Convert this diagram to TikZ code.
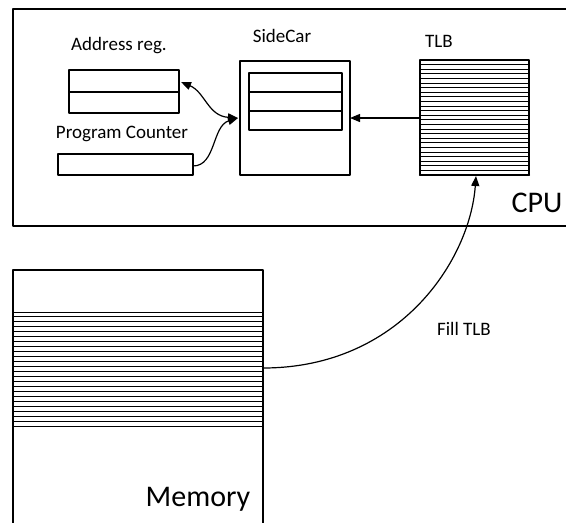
\documentclass[tikz,border=0pt]{standalone}
\usepackage{fontspec}
\setmainfont{Carlito}
\usepackage{tkz-euclide}
\usetikzlibrary{arrows.meta}

\begin{document}
\begin{tikzpicture}[x=1pt,y=1pt,line width=1.2pt,
  lbl/.style={font=\fontsize{19}{22}\selectfont},
  big/.style={font=\fontsize{30}{36}\selectfont},
  tip/.tip={Triangle[length=10pt,width=8pt]},
  arr/.style={line width=1.2pt,-tip}]
\useasboundingbox (0,-523) rectangle (566,0);
\tkzDefPoints{13/-9/A, 580/-9/B, 580/-226/C, 13/-226/D}
\tkzDrawPolygon[line width=1.2pt](A,B,C,D)
\tkzDefPoints{13/-270/E, 263/-270/F, 263/-530/G, 13/-530/H}
\tkzDrawPolygon[line width=1.2pt](E,F,G,H)
\foreach \i in {0,...,23} \draw[line width=1pt] (13,-312-4.96*\i) -- (263,-312-4.96*\i);
\tkzDefPoints{420/-60/I, 529/-60/J, 529/-175/K, 420/-175/L}
\tkzDrawPolygon[line width=1.2pt](I,J,K,L)
\foreach \i in {0,...,24} \draw[line width=1pt] (420,-60-4.6*\i) -- (529,-60-4.6*\i);
\tkzDrawSegment[line width=2.4pt](K,L)
\tkzDefPoints{240/-61/M, 350/-61/N, 350/-175/O, 240/-175/P}
\tkzDrawPolygon[line width=1.2pt](M,N,O,P)
\tkzDefPoints{249/-73/Q, 342/-73/R, 342/-130/S, 249/-130/T}
\tkzDrawPolygon[line width=1.2pt](Q,R,S,T)
\draw (249,-92) -- (342,-92) (249,-111) -- (342,-111);
\tkzDefPoints{69/-70/U, 179/-70/V, 179/-113/W, 69/-113/X}
\tkzDrawPolygon[line width=1.2pt](U,V,W,X)
\draw (69,-92) -- (179,-92);
\tkzDefPoints{58/-154/Y, 193/-154/Z, 193/-175/Z2, 58/-175/Y2}
\tkzDrawPolygon[line width=1.2pt](Y,Z,Z2,Y2)
\node[lbl] (addr) at (119,-46) {Address reg.};
\node[lbl] (side) at (282,-36) {SideCar};
\node[lbl] (tlb) at (439,-41) {TLB};
\node[lbl] (pc) at (122,-134) {Program Counter};
\node[big] (cpu) at (537,-203) {CPU};
\node[big] (mem) at (198,-499) {Memory};
\node[lbl] (fill) at (464,-329) {Fill TLB};
\tkzDefPoints{181/-82/a1, 193/-166/p1, 238/-118/s1, 350/-118/s2, 420/-118/t1, 476/-176/t2, 263/-368/m1}
\draw[arr,tip-tip] (a1) .. controls (205,-92) and (208,-116) .. (s1);
\draw[arr] (p1) .. controls (216,-166) and (212,-126) .. (s1);
\draw[arr] (t1) -- (s2);
\draw[arr] (m1) .. controls (400,-368) and (470,-260) .. (t2);
\end{tikzpicture}
\end{document}
